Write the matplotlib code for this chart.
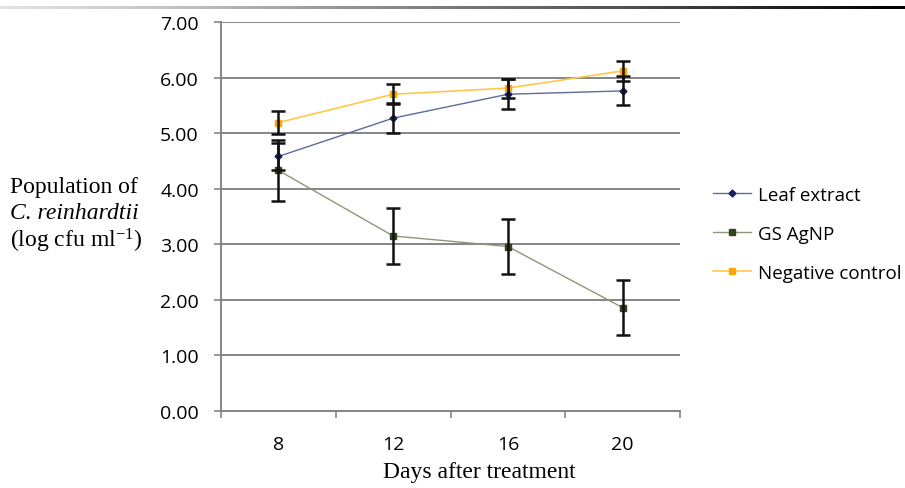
import numpy as np
import matplotlib
matplotlib.use('Agg')
import matplotlib.pyplot as plt

plt.rcParams['mathtext.fontset'] = 'custom'
plt.rcParams['mathtext.rm'] = 'Liberation Serif'
plt.rcParams['mathtext.it'] = 'Liberation Serif:italic'

# data
days = ['8', '12', '16', '20']
leaf = [4.58, 5.27, 5.70, 5.76]
leaf_err = [0.25, 0.27, 0.27, 0.26]
gs = [4.33, 3.15, 2.96, 1.86]
gs_err = [0.55, 0.50, 0.50, 0.50]
neg = [5.19, 5.70, 5.81, 6.12]
neg_err = [0.20, 0.18, 0.17, 0.18]
yticks = [0, 1, 2, 3, 4, 5, 6, 7]

W, H = 905, 489
fig = plt.figure(figsize=(W / 100, H / 100), dpi=100)
ax = fig.add_axes([221 / W, 1 - 412 / H, (680 - 221) / W, (412 - 23) / H])

GRID = '#858585'
x = np.arange(len(days))

# series lines
ax.plot(x, leaf, color='#5D6B9E', lw=1.0, marker='D', ms=3.5,
        mfc='#16205A', mec='#16205A', label='Leaf extract', zorder=3)
ax.plot(x, gs, color='#8F977A', lw=1.0, marker='s', ms=4,
        mfc='#34441A', mec='#34441A', label='GS AgNP', zorder=3)
ax.plot(x, neg, color='#FFC84A', lw=1.2, marker='s', ms=5,
        mfc='#FFA500', mec='#FFA500', label='Negative control', zorder=3)

# error bars
for vals, errs in [(leaf, leaf_err), (gs, gs_err), (neg, neg_err)]:
    ax.errorbar(x, vals, yerr=errs, fmt='none', ecolor='#111111',
                elinewidth=1.8, capsize=5, capthick=1.8, zorder=4)

ax.set_xlim(-0.5, len(days) - 0.5)
ax.set_ylim(0, 7)
ax.set_yticks(yticks)
ax.set_yticklabels([f'{v:.2f}' for v in yticks])
ax.yaxis.grid(True, color=GRID, lw=1.4)
ax.set_axisbelow(True)

ax.set_xticks(np.arange(-0.5, len(days), 1.0))
ax.set_xticklabels([])
ax.set_xticks(x, minor=True)
ax.set_xticklabels(days, minor=True)

for s in ['top', 'right']:
    ax.spines[s].set_visible(False)
for s in ['left', 'bottom']:
    ax.spines[s].set_color(GRID)
    ax.spines[s].set_linewidth(1.4)

ax.tick_params(axis='both', which='major', direction='out', length=5,
               width=1.2, color=GRID, labelsize=14)
ax.tick_params(axis='y', pad=11)
ax.tick_params(axis='x', which='minor', length=0, pad=17, labelsize=14)
for lbl in ax.get_yticklabels() + ax.get_xticklabels(minor=True):
    lbl.set_family('Open Sans')

# axis labels as free text (serif)
serif = 'Liberation Serif'
fs = 17
fig.text(479 / W, 1 - 473 / H, 'Days after treatment', family=serif,
         fontsize=fs, ha='center', va='center')
fig.text(10 / W, 1 - 188 / H, 'Population of', family=serif,
         fontsize=fs, ha='left', va='center')
fig.text(10 / W, 1 - 214 / H, 'C. reinhardtii', family=serif, style='italic',
         fontsize=fs, ha='left', va='center')
fig.text(10 / W, 1 - 241 / H, r'(log cfu ml$^{\mathrm{-1}}$)', family=serif,
         fontsize=fs, ha='left', va='center')

leg = ax.legend(loc='center left', bbox_to_anchor=(713 / W, 1 - 235 / H),
                bbox_transform=fig.transFigure, frameon=False,
                prop={'family': 'Open Sans', 'size': 13.5},
                handlelength=2.0, handletextpad=0.4, labelspacing=1.12,
                borderaxespad=0, borderpad=0)

# gradient bar along the top edge
bar = fig.add_axes([0, 1 - 10 / H, 1, 3 / H])
grad = np.linspace(0.2, 1.0, 256).reshape(1, -1)
bar.imshow(grad, aspect='auto', cmap='Greys', vmin=0, vmax=1)
bar.axis('off')

fig.savefig('out.png', dpi=100, facecolor='white')
